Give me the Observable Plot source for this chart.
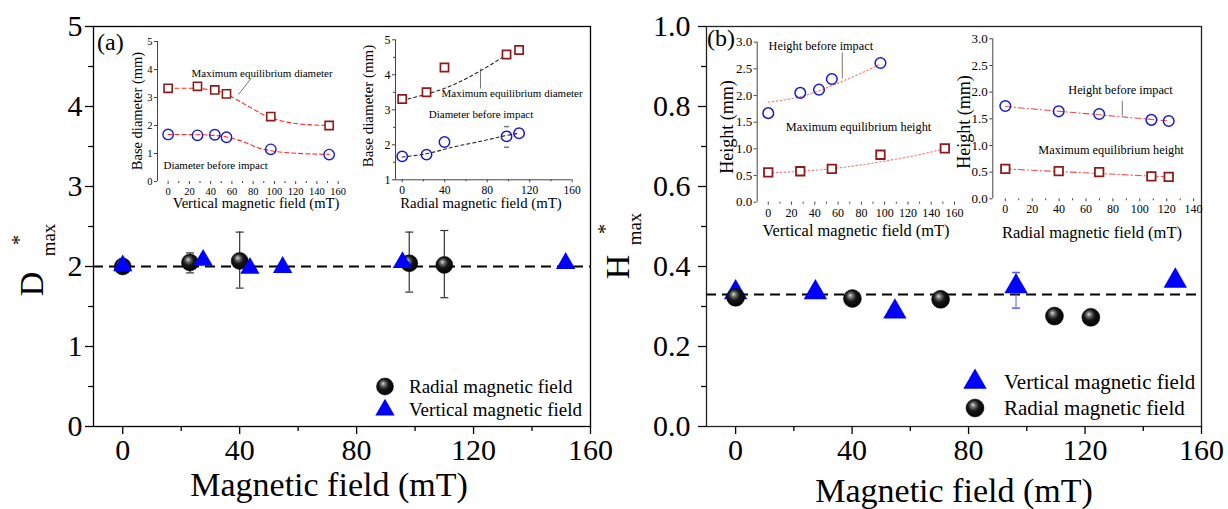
<!DOCTYPE html>
<html><head><meta charset="utf-8">
<script src="https://cdn.jsdelivr.net/npm/d3@7"></script>
<script src="https://cdn.jsdelivr.net/npm/@observablehq/plot@0.6"></script>
<style>
body{margin:0;background:#fff;}
#wrap{position:relative;width:1228px;height:509px;overflow:hidden;background:#fff;}
#wrap svg{position:absolute;overflow:visible;}
</style></head><body><div id="wrap"></div>
<script>
// ---------- main panel data ----------
const mainXTicks = [0, 40, 80, 120, 160];
const mainXMinor = [20, 60, 100, 140];
const aYTicks = [0, 1, 2, 3, 4, 5];
const aYMinor = [0.5, 1.5, 2.5, 3.5, 4.5];
const bYTicks = [0, 0.2, 0.4, 0.6, 0.8, 1.0];
const bYMinor = [0.1, 0.3, 0.5, 0.7, 0.9];

const aRadialX = [0, 23, 40, 98, 110];
const aRadialY = [2.00, 2.05, 2.07, 2.04, 2.02];
const aRadialLo = [null, 1.92, 1.73, 1.68, 1.61];
const aRadialHi = [null, 2.17, 2.43, 2.43, 2.45];
const aVerticalX = [0, 27.5, 43.5, 54.7, 95.7, 151.5];
const aVerticalY = [2.01, 2.08, 1.98, 1.99, 2.05, 2.04];
const aRefLine = [2];

const bVerticalX = [0, 27.4, 54.7, 96.3, 151];
const bVerticalY = [0.335, 0.335, 0.287, 0.35, 0.364];
const bVerticalLo = [null, null, null, 0.296, null];
const bVerticalHi = [null, null, null, 0.385, null];
const bRadialX = [0, 40.1, 70.4, 109.5, 122];
const bRadialY = [0.323, 0.320, 0.318, 0.276, 0.273];
const bRefLine = [0.33];

// ---------- inset data ----------
// (a) left inset: vertical field, base diameter
const i1X = [0, 27.6, 43.9, 54.9, 96.6, 151.5];
const i1MaxD = [3.33, 3.40, 3.27, 3.13, 2.32, 2.00];
const i1BeforeD = [1.68, 1.65, 1.67, 1.58, 1.15, 0.96];
const i1FitMaxX = [0, 20, 40, 55, 66, 78, 91, 103, 122, 151.5];
const i1FitMaxY = [3.33, 3.33, 3.28, 3.12, 2.89, 2.63, 2.36, 2.20, 2.06, 2.00];
const i1FitBefX = [0, 30, 50, 70, 85, 100, 120, 151.5];
const i1FitBefY = [1.68, 1.67, 1.62, 1.43, 1.20, 1.08, 1.01, 0.97];
const i1XTicks = [0, 20, 40, 60, 80, 100, 120, 140, 160];
const i1XMinor = [10, 30, 50, 70, 90, 110, 130, 150];
const i1YTicks = [0, 1, 2, 3, 4, 5];

// (a) right inset: radial field, base diameter
const i2X = [0, 22.9, 39.8, 98.2, 110];
const i2MaxD = [3.31, 3.50, 4.21, 4.58, 4.71];
const i2BeforeD = [1.67, 1.72, 2.08, 2.24, 2.33];
const i2ErrX = [98.2];
const i2ErrLo = [1.93];
const i2ErrHi = [2.52];
const i2FitMaxX = [0, 50, 74, 97];
const i2FitMaxY = [3.27, 3.74, 4.12, 4.55];
const i2FitBefX = [0, 22, 50, 74, 97, 110];
const i2FitBefY = [1.65, 1.74, 1.95, 2.10, 2.26, 2.33];
const i2XTicks = [0, 40, 80, 120, 160];
const i2XMinor = [20, 60, 100, 140];
const i2YTicks = [1, 2, 3, 4, 5];
const i2YMinor = [1.5, 2.5, 3.5, 4.5];

// (b) left inset: vertical field, height
const i3CX = [0, 27.5, 43.6, 54.6, 96.4];
const i3CY = [1.67, 2.05, 2.11, 2.31, 2.61];
const i3SX = [0, 27.5, 54.6, 96.4, 151.7];
const i3SY = [0.56, 0.58, 0.625, 0.89, 1.01];
const i3FitCX = [0, 27.8, 62, 96.5];
const i3FitCY = [1.875, 1.98, 2.25, 2.59];
const i3FitSX = [0, 27.5, 55, 80, 100, 125, 151.7];
const i3FitSY = [0.55, 0.58, 0.63, 0.70, 0.77, 0.87, 1.00];
const i3XTicks = [0, 20, 40, 60, 80, 100, 120, 140, 160];
const i3XMinor = [10, 30, 50, 70, 90, 110, 130, 150];
const i3YTicks = [0, 0.5, 1.0, 1.5, 2.0, 2.5, 3.0];

// (b) right inset: radial field, height
const i4X = [0, 39.7, 69.8, 108.6, 121.5];
const i4CY = [1.74, 1.64, 1.59, 1.48, 1.46];
const i4SY = [0.56, 0.52, 0.50, 0.42, 0.41];
const i4FitX = [0, 121.5];
const i4FitCY = [1.73, 1.46];
const i4FitSY = [0.56, 0.41];
const i4XTicks = [0, 20, 40, 60, 80, 100, 120, 140];
const i4XMinor = [10, 30, 50, 70, 90, 110, 130];
const i4YTicks = [0, 0.5, 1.0, 1.5, 2.0, 2.5, 3.0];

// annotations (in data units of each inset)
const i1Notes = [{x: 22, y: 3.86, t: "Maximum equilibrium diameter"}, {x: -4.4, y: 0.57, t: "Diameter before impact"}];
const i1Pointer = [{x1: 78, y1: 3.68, x2: 66, y2: 3.10}];
const i2Notes = [{x: 37, y: 3.47, t: "Maximum equilibrium diameter"}, {x: 25, y: 2.87, t: "Diameter before impact"}];
const i2Pointer = [{x1: 73.7, y1: 3.61, x2: 73.7, y2: 4.18}];
const i3Notes = [{x: 0.3, y: 2.92, t: "Height before impact"}, {x: 15, y: 1.40, t: "Maximum equilibrium height"}];
const i3Pointer = [{x1: 63.6, y1: 2.81, x2: 63.6, y2: 2.32}];
const i4Notes = [{x: 46.8, y: 2.045, t: "Height before impact"}, {x: 24.5, y: 0.906, t: "Maximum equilibrium height"}];
const i4Pointer = [{x1: 87, y1: 1.84, x2: 87, y2: 1.56}];

// ---------- helpers ----------
const serif = '"Liberation Serif","Times New Roman",serif';
const wrap = document.getElementById("wrap");
const zip = (xs, ys) => xs.map((x, i) => ({x, y: ys[i]}));
const cap = {draw(ctx, size) { const w = Math.sqrt(size / Math.PI); ctx.moveTo(-w, 0); ctx.lineTo(w, 0); }};
const fmtInt = d3.format("d");
const fmt1 = d3.format(".1f");
function place(svg, left, top) { svg.style.left = left + "px"; svg.style.top = top + "px"; wrap.appendChild(svg); return svg; }
function txt(svg, x, y, s, o = {}) {
  const t = d3.select(svg).append("text").attr("x", x).attr("y", y).text(s)
    .attr("font-family", serif).attr("font-size", o.size || 12)
    .attr("text-anchor", o.anchor || "middle").attr("fill", "#000");
  if (o.dy) t.attr("dy", o.dy);
  if (o.rotate) t.attr("transform", `rotate(${o.rotate},${x},${y})`);
  return t;
}
const blue = "#0000ff";
const circBlue = "#1a1acc";
const sqRed = "#8e1b1b";

// ---------- main panel (a) ----------
const aRad = aRadialX.map((x, i) => ({x, y: aRadialY[i], lo: aRadialLo[i], hi: aRadialHi[i]}));
const aErr = aRad.filter(d => d.lo != null);
const aVer = zip(aVerticalX, aVerticalY);

const aPlot = Plot.plot({
  width: 605, height: 509, marginLeft: 93, marginRight: 15, marginTop: 26, marginBottom: 83,
  style: {background: "transparent", fontFamily: serif, color: "#000"},
  x: {domain: [-10, 160], label: null},
  y: {domain: [0, 5], label: null},
  marks: [
    Plot.frame({stroke: "#000", strokeWidth: 1.3}),
    Plot.axisX({ticks: mainXTicks, tickSize: 8, tickPadding: 4, fontSize: 30, tickFormat: fmtInt, label: null, strokeWidth: 1.3}),
    Plot.axisX({ticks: mainXMinor, tickSize: 5, tickFormat: () => "", label: null, strokeWidth: 1.3}),
    Plot.axisY({ticks: aYTicks, tickSize: 8, tickPadding: 3, fontSize: 30, tickFormat: fmtInt, label: null, strokeWidth: 1.3}),
    Plot.axisY({ticks: aYMinor, tickSize: 5, tickFormat: () => "", label: null, strokeWidth: 1.3}),
    Plot.ruleY(aRefLine, {stroke: "#000", strokeWidth: 2.2, strokeDasharray: "10,6"}),
    Plot.ruleX(aErr, {x: "x", y1: "lo", y2: "hi", stroke: "#333", strokeWidth: 1.2}),
    Plot.dot(aErr, {x: "x", y: "lo", symbol: cap, r: 4, stroke: "#333", fill: "none", strokeWidth: 1.2}),
    Plot.dot(aErr, {x: "x", y: "hi", symbol: cap, r: 4, stroke: "#333", fill: "none", strokeWidth: 1.2}),
    Plot.dot(aRad, {x: "x", y: "y", r: 8.5, fill: "url(#sph)", stroke: "#000", strokeWidth: 0.5}),
    Plot.dot(aVer, {x: "x", y: "y", symbol: "triangle", r: 7.2, fill: blue, stroke: "none"})
  ]
});
place(aPlot, 0, 0);
{
  const defs = d3.select(aPlot).insert("defs", ":first-child");
  const g = defs.append("radialGradient").attr("id", "sph").attr("cx", "0.45").attr("cy", "0.42").attr("r", "0.6").attr("fx", "0.38").attr("fy", "0.32");
  g.append("stop").attr("offset", "0").attr("stop-color", "#e0e0e0");
  g.append("stop").attr("offset", "0.2").attr("stop-color", "#767676");
  g.append("stop").attr("offset", "0.5").attr("stop-color", "#161616");
  g.append("stop").attr("offset", "1").attr("stop-color", "#000");
  const s = d3.select(aPlot);
  // legend
  s.append("circle").attr("cx", 385).attr("cy", 386.5).attr("r", 8.5).attr("fill", "url(#sph)").attr("stroke", "#000").attr("stroke-width", 0.5);
  s.append("path").attr("d", d3.symbol(d3.symbolTriangle, Math.PI * 7.2 * 7.2)()).attr("transform", "translate(385,410)").attr("fill", blue);
  txt(aPlot, 409, 386.5, "Radial magnetic field", {size: 19, anchor: "start", dy: "0.33em"});
  txt(aPlot, 409, 410, "Vertical magnetic field", {size: 19, anchor: "start", dy: "0.33em"});
  // titles
  txt(aPlot, 329, 496, "Magnetic field (mT)", {size: 34});
  txt(aPlot, 97, 50, "(a)", {size: 24, anchor: "start"});
  const lab = s.append("g").attr("transform", "translate(43,284) rotate(-90)");
  lab.append("text").attr("x", 0).attr("y", 0).attr("font-family", serif).attr("font-size", 34).text("D");
  lab.append("text").attr("x", 44).attr("y", -17).attr("font-family", serif).attr("font-size", 20).text("*");
  lab.append("text").attr("x", 44).attr("y", 12).attr("font-family", serif).attr("font-size", 19).text("max");
}

// ---------- main panel (b) ----------
const bVer = bVerticalX.map((x, i) => ({x, y: bVerticalY[i], lo: bVerticalLo[i], hi: bVerticalHi[i]}));
const bErr = bVer.filter(d => d.lo != null);
const bRad = zip(bRadialX, bRadialY);
const bPlot = Plot.plot({
  width: 618, height: 509, marginLeft: 96, marginRight: 27, marginTop: 26, marginBottom: 83,
  style: {background: "transparent", fontFamily: serif, color: "#000"},
  x: {domain: [-10, 160], label: null},
  y: {domain: [0, 1], label: null},
  marks: [
    Plot.frame({stroke: "#222", strokeWidth: 1.3}),
    Plot.axisX({ticks: mainXTicks, tickSize: 8, tickPadding: 4, fontSize: 30, tickFormat: fmtInt, label: null, strokeWidth: 1.3}),
    Plot.axisX({ticks: mainXMinor, tickSize: 5, tickFormat: () => "", label: null, strokeWidth: 1.3}),
    Plot.axisY({ticks: bYTicks, tickSize: 8, tickPadding: 8, fontSize: 30, tickFormat: fmt1, label: null, strokeWidth: 1.3}),
    Plot.axisY({ticks: bYMinor, tickSize: 5, tickFormat: () => "", label: null, strokeWidth: 1.3}),
    Plot.ruleY(bRefLine, {stroke: "#000", strokeWidth: 2.2, strokeDasharray: "10,6"}),
    Plot.ruleX(bErr, {x: "x", y1: "lo", y2: "hi", stroke: "#5a5aff", strokeWidth: 1}),
    Plot.dot(bErr, {x: "x", y: "lo", symbol: cap, r: 4, stroke: "#5a5aff", fill: "none"}),
    Plot.dot(bErr, {x: "x", y: "hi", symbol: cap, r: 4, stroke: "#5a5aff", fill: "none"}),
    Plot.dot(bVer, {x: "x", y: "y", symbol: "triangle", r: 8.7, fill: blue, stroke: "none"}),
    Plot.dot(bRad, {x: "x", y: "y", r: 9, fill: "url(#sph)", stroke: "#000", strokeWidth: 0.5})
  ]
});
place(bPlot, 610, 0);
{
  const s = d3.select(bPlot);
  s.append("path").attr("d", d3.symbol(d3.symbolTriangle, Math.PI * 8.7 * 8.7)()).attr("transform", "translate(365,382)").attr("fill", blue);
  s.append("circle").attr("cx", 365).attr("cy", 408).attr("r", 9).attr("fill", "url(#sph)").attr("stroke", "#000").attr("stroke-width", 0.5);
  txt(bPlot, 394, 382, "Vertical magnetic field", {size: 21, anchor: "start", dy: "0.33em"});
  txt(bPlot, 394, 408, "Radial magnetic field", {size: 21, anchor: "start", dy: "0.33em"});
  txt(bPlot, 344, 502, "Magnetic field (mT)", {size: 34});
  txt(bPlot, 97, 46, "(b)", {size: 24, anchor: "start"});
  const lab = s.append("g").attr("transform", "translate(19,267) rotate(-90)");
  lab.append("text").attr("x", 0).attr("y", 0).attr("font-family", serif).attr("font-size", 34).text("H");
  lab.append("text").attr("x", 38).attr("y", -17).attr("font-family", serif).attr("font-size", 20).text("*");
  lab.append("text").attr("x", 38).attr("y", 12).attr("font-family", serif).attr("font-size", 19).text("max");
}

// ---------- insets ----------
function inset(o) {
  const marks = [
    Plot.ruleX([o.xDomain[0]], {stroke: "#444", strokeWidth: 1}),
    o.xLine ? Plot.ruleY([o.yDomain[0]], {stroke: "#444", strokeWidth: 1}) : null,
    Plot.axisX({ticks: o.xTicks, tickSize: 3, tickPadding: 3, fontSize: o.xFont, tickFormat: fmtInt, label: null, stroke: "#444"}),
    Plot.axisX({ticks: o.xMinor, tickSize: 2, tickFormat: () => "", label: null, stroke: "#444"}),
    Plot.axisY({ticks: o.yTicks, tickSize: 3, tickPadding: 2, fontSize: o.yFont, tickFormat: o.yFormat, label: null, stroke: "#444"}),
    o.yMinor ? Plot.axisY({ticks: o.yMinor, tickSize: 2, tickFormat: () => "", label: null, stroke: "#444"}) : null,
    ...o.marks,
    Plot.link(o.pointer, {x1: "x1", y1: "y1", x2: "x2", y2: "y2", stroke: "#555", strokeWidth: 0.8}),
    Plot.text(o.notes, {x: "x", y: "y", text: "t", textAnchor: "start", fontSize: o.noteFont, fill: "#000"})
  ].filter(Boolean);
  const svg = Plot.plot({
    width: o.w, height: o.h, marginLeft: o.ml, marginRight: o.mr, marginTop: o.mt, marginBottom: o.mb,
    style: {background: "transparent", fontFamily: serif, color: "#000"},
    x: {domain: o.xDomain, label: null},
    y: {domain: o.yDomain, label: null},
    marks
  });
  place(svg, o.left, o.top);
  return svg;
}
const sq = (data, r, sw) => Plot.dot(data, {x: "x", y: "y", symbol: "square", r, stroke: sqRed, fill: "#fff", strokeWidth: sw});
const ci = (data, r, sw) => Plot.dot(data, {x: "x", y: "y", symbol: "circle", r, stroke: circBlue, fill: "none", strokeWidth: sw});
const fit = (xs, ys, stroke, dash, sw = 1.1) => Plot.line(zip(xs, ys), {x: "x", y: "y", curve: "monotone-x", stroke, strokeDasharray: dash, strokeWidth: sw});

const in1 = inset({
  left: 100, top: 20, w: 260, h: 200, ml: 57, mr: 17, mt: 21, mb: 39,
  xDomain: [-10, 165], yDomain: [0, 5], xTicks: i1XTicks, xMinor: i1XMinor, yTicks: i1YTicks,
  yFormat: fmtInt, xFont: 10.5, yFont: 10.5, noteFont: 11, xLine: false,
  pointer: i1Pointer, notes: i1Notes,
  marks: [
    fit(i1FitMaxX, i1FitMaxY, "#ff2a2a", "4,3"),
    fit(i1FitBefX, i1FitBefY, "#ff2a2a", "4,3"),
    sq(zip(i1X, i1MaxD), 4.6, 1.6),
    ci(zip(i1X, i1BeforeD), 5.2, 1.4)
  ]
});
txt(in1, 156, 183, "Vertical magnetic field (mT)", {size: 14.6, dy: "0.35em"});
txt(in1, 37, 91, "Base diameter (mm)", {size: 14.5, dy: "0.35em", rotate: -90});

const in2 = inset({
  left: 340, top: 20, w: 260, h: 200, ml: 55, mr: 28.3, mt: 19.3, mb: 40.7,
  xDomain: [-6.3, 160], yDomain: [1, 5], xTicks: i2XTicks, xMinor: i2XMinor, yTicks: i2YTicks, yMinor: i2YMinor,
  yFormat: fmtInt, xFont: 11.5, yFont: 12, noteFont: 11, xLine: true,
  pointer: i2Pointer, notes: i2Notes,
  marks: [
    fit(i2FitMaxX, i2FitMaxY, "#222", "3,3"),
    fit(i2FitBefX, i2FitBefY, "#222", "3,3"),
    Plot.dot(zip(i2ErrX, i2ErrLo), {x: "x", y: "y", symbol: cap, r: 2.5, stroke: "#777", fill: "none"}),
    Plot.dot(zip(i2ErrX, i2ErrHi), {x: "x", y: "y", symbol: cap, r: 2.5, stroke: "#777", fill: "none"}),
    sq(zip(i2X, i2MaxD), 4.6, 1.7),
    ci(zip(i2X, i2BeforeD), 5.2, 1.5)
  ]
});
txt(in2, 141, 183, "Radial magnetic field (mT)", {size: 14.8, dy: "0.35em"});
txt(in2, 28, 86, "Base diameter (mm)", {size: 15, dy: "0.35em", rotate: -90});

const in3 = inset({
  left: 700, top: 20, w: 270, h: 225, ml: 56.7, mr: 16, mt: 21.7, mb: 43.3,
  xDomain: [-9.5, 160], yDomain: [0, 3], xTicks: i3XTicks, xMinor: i3XMinor, yTicks: i3YTicks,
  yFormat: fmt1, xFont: 12, yFont: 13, noteFont: 12.3, xLine: false,
  pointer: i3Pointer, notes: i3Notes,
  marks: [
    fit(i3FitCX, i3FitCY, "#f08080", "1.5,2.5", 1.2),
    fit(i3FitSX, i3FitSY, "#f08080", "1.5,2.5", 1.2),
    sq(zip(i3SX, i3SY), 4.8, 1.8),
    ci(zip(i3CX, i3CY), 5.3, 1.5)
  ]
});
txt(in3, 156, 210, "Vertical magnetic field (mT)", {size: 16.4, dy: "0.35em"});
txt(in3, 27, 107, "Height (mm)", {size: 18, dy: "0.35em", rotate: -90});

const in4 = inset({
  left: 960, top: 20, w: 241, h: 225, ml: 32.3, mr: 7.9, mt: 18.3, mb: 46.7,
  xDomain: [-9.3, 140], yDomain: [0, 3], xTicks: i4XTicks, xMinor: i4XMinor, yTicks: i4YTicks,
  yFormat: fmt1, xFont: 12, yFont: 13, noteFont: 12.3, xLine: false,
  pointer: i4Pointer, notes: i4Notes,
  marks: [
    fit(i4FitX, i4FitCY, "#e85050", "6,3,1,3", 1.1),
    fit(i4FitX, i4FitSY, "#e85050", "6,3,1,3", 1.1),
    sq(zip(i4X, i4SY), 4.8, 1.8),
    ci(zip(i4X, i4CY), 5.3, 1.5)
  ]
});
txt(in4, 132, 212, "Radial magnetic field (mT)", {size: 16.5, dy: "0.35em"});
txt(in4, 4, 102, "Height (mm)", {size: 18, dy: "0.35em", rotate: -90});
</script>
</body></html>
